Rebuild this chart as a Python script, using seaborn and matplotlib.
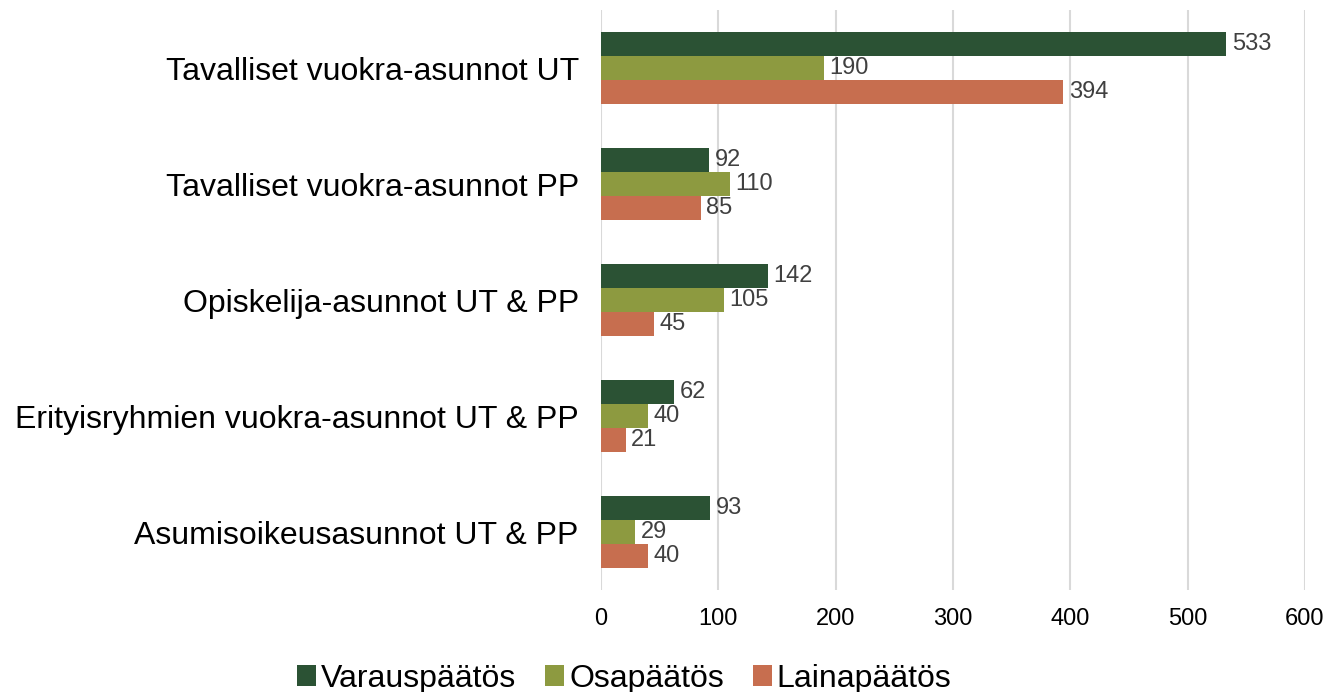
import matplotlib.pyplot as plt
import seaborn as sns
import pandas as pd

categories = [
    "Tavalliset vuokra-asunnot UT",
    "Tavalliset vuokra-asunnot PP",
    "Opiskelija-asunnot UT & PP",
    "Erityisryhmien vuokra-asunnot UT & PP",
    "Asumisoikeusasunnot UT & PP",
]
series = ["Varauspäätös", "Osapäätös", "Lainapäätös"]
varaus = [533, 92, 142, 62, 93]
osa = [190, 110, 105, 40, 29]
laina = [394, 85, 45, 21, 40]
colors = ["#2B5234", "#8D9A40", "#C76E4F"]

rows = []
for name, vals in zip(series, [varaus, osa, laina]):
    for cat, v in zip(categories, vals):
        rows.append({"category": cat, "series": name, "value": v})
df = pd.DataFrame(rows)

sns.set_style("white")
plt.rcParams["font.family"] = ["Liberation Sans", "DejaVu Sans"]

fig = plt.figure(figsize=(13.27, 6.92), dpi=100)
ax = fig.add_axes([0.4529, 0.1474, 0.5305, 0.838])

sns.barplot(data=df, x="value", y="category", hue="series", order=categories,
            hue_order=series, palette=colors, width=0.62, orient="h",
            saturation=1, linewidth=0, ax=ax, legend=True)

for cont in ax.containers:
    ax.bar_label(cont, padding=4, fontsize=17, color="#404040")

ax.set_xlim(0, 600)
ax.set_xticks(range(0, 601, 100))
ax.xaxis.grid(True, color="#D9D9D9", linewidth=1.5)
ax.set_axisbelow(True)
for s in ax.spines.values():
    s.set_visible(False)
ax.tick_params(axis="x", length=0, labelsize=17, pad=13, labelcolor="black")
ax.tick_params(axis="y", length=0, labelsize=23, pad=16, labelcolor="black")
ax.set_xlabel("")
ax.set_ylabel("")

ax.legend(loc="center", bbox_to_anchor=(0.033, -0.153), ncol=3, frameon=False,
          fontsize=23, handlelength=0.6, handleheight=0.6, handletextpad=0.15,
          columnspacing=0.9, labelcolor="black")

fig.savefig("out.png", dpi=100)
